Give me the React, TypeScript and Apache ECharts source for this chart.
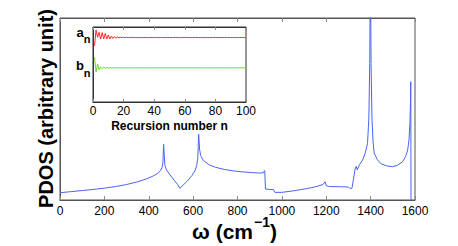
import React, { useEffect, useRef } from "react";
import * as echarts from "echarts";

// Main PDOS curve (omega in cm^-1, PDOS in arbitrary units)
const omega = [0, 50, 100, 150, 200, 250, 300, 350, 390, 420, 440, 452, 460, 464, 467, 470, 473, 480, 495, 515, 530, 540, 555, 575, 595, 608, 616, 621, 625, 629, 634, 642, 655, 675, 700, 740, 780, 820, 860, 900, 918, 921, 923, 926, 945, 962, 968, 1000, 1050, 1100, 1150, 1185, 1195, 1200, 1215, 1260, 1300, 1310, 1316, 1322, 1330, 1335, 1340, 1350, 1364, 1375, 1386, 1392, 1396, 1399, 1402, 1406, 1411, 1416, 1430, 1446, 1470, 1499, 1520, 1544, 1558, 1567, 1573, 1577, 1580, 1581, 1582];
const pdos = [0.040, 0.046, 0.052, 0.058, 0.065, 0.074, 0.085, 0.100, 0.116, 0.132, 0.146, 0.160, 0.178, 0.205, 0.306, 0.240, 0.190, 0.165, 0.140, 0.108, 0.085, 0.064, 0.082, 0.105, 0.135, 0.160, 0.190, 0.230, 0.361, 0.280, 0.245, 0.225, 0.208, 0.192, 0.180, 0.168, 0.160, 0.155, 0.151, 0.148, 0.150, 0.162, 0.158, 0.060, 0.058, 0.057, 0.042, 0.042, 0.050, 0.060, 0.072, 0.085, 0.100, 0.078, 0.074, 0.073, 0.071, 0.062, 0.065, 0.110, 0.170, 0.185, 0.165, 0.195, 0.220, 0.255, 0.310, 0.450, 0.750, 1.300, 0.750, 0.450, 0.320, 0.258, 0.222, 0.200, 0.188, 0.183, 0.190, 0.210, 0.240, 0.275, 0.330, 0.420, 0.550, 0.650, 0.000];

// Inset: recursion coefficients a_n and b_n for n = 1..100
const aN = [
  0.750, 0.960, 0.863, 0.930, 0.840, 0.927, 0.840, 0.913, 0.840, 0.893,
  0.840, 0.880, 0.847, 0.873, 0.849, 0.867, 0.856, 0.864, 0.857, 0.862,
  0.858, 0.863, 0.857, 0.861, 0.859, 0.862, 0.858, 0.861, 0.857, 0.862,
  0.859, 0.861, 0.858, 0.862, 0.859, 0.860, 0.857, 0.862, 0.858, 0.861,
  0.859, 0.862, 0.857, 0.861, 0.859, 0.860, 0.858, 0.862, 0.859, 0.861,
  0.858, 0.860, 0.859, 0.862, 0.858, 0.861, 0.857, 0.860, 0.859, 0.862,
  0.858, 0.861, 0.859, 0.860, 0.858, 0.862, 0.859, 0.861, 0.858, 0.860,
  0.859, 0.862, 0.858, 0.861, 0.859, 0.860, 0.858, 0.861, 0.859, 0.862,
  0.858, 0.860, 0.859, 0.861, 0.858, 0.862, 0.859, 0.860, 0.858, 0.861,
  0.859, 0.860, 0.858, 0.861, 0.859, 0.860, 0.859, 0.861, 0.858, 0.860,
];
const bN = [
  0.596, 0.400, 0.507, 0.430, 0.470, 0.444, 0.467, 0.449, 0.463, 0.450,
  0.460, 0.452, 0.459, 0.453, 0.458, 0.454, 0.457, 0.453, 0.458, 0.455,
  0.457, 0.454, 0.458, 0.455, 0.457, 0.453, 0.457, 0.455, 0.458, 0.454,
  0.456, 0.455, 0.458, 0.454, 0.457, 0.455, 0.456, 0.454, 0.458, 0.455,
  0.457, 0.454, 0.456, 0.455, 0.458, 0.454, 0.457, 0.455, 0.456, 0.454,
  0.458, 0.455, 0.457, 0.454, 0.456, 0.455, 0.458, 0.454, 0.457, 0.455,
  0.456, 0.454, 0.458, 0.455, 0.457, 0.454, 0.456, 0.455, 0.458, 0.454,
  0.457, 0.455, 0.456, 0.454, 0.458, 0.455, 0.457, 0.454, 0.456, 0.455,
  0.458, 0.454, 0.457, 0.455, 0.456, 0.454, 0.458, 0.455, 0.457, 0.454,
  0.456, 0.455, 0.458, 0.454, 0.457, 0.455, 0.456, 0.454, 0.457, 0.455,
];

const FONT = "'Liberation Sans', Arial, Helvetica, sans-serif";

export default function App() {
  const ref = useRef<HTMLDivElement>(null);
  useEffect(() => {
    if (!ref.current) return;
    const chart = echarts.init(ref.current, null, { renderer: "svg" });
    const mainData = omega.map((w, i) => [w, pdos[i]]);
    const aData = aN.map((v, i) => [i + 1, v]);
    const bData = bN.map((v, i) => [i + 1, v]);
    const tickStyle = { color: "#888", width: 1 };
    const plain = (v: number) => String(v);
    chart.setOption({
      animation: false,
      backgroundColor: "#fff",
      textStyle: { fontFamily: FONT },
      grid: [
        { left: 60, top: 18, width: 355, height: 182, show: true, borderColor: "#555", borderWidth: 1, backgroundColor: "transparent", z: 0 },
        { left: 93, top: 27, width: 153, height: 75, show: true, borderColor: "#333", borderWidth: 1, backgroundColor: "#fff", z: 5 },
      ],
      xAxis: [
        {
          gridIndex: 0, type: "value", position: "bottom", min: 0, max: 1600, interval: 200,
          axisLine: { show: true, lineStyle: { color: "#555" } },
          axisTick: { show: true, inside: true, length: 4, lineStyle: tickStyle },
          axisLabel: { color: "#000", fontSize: 12, margin: 5, fontFamily: FONT, formatter: plain },
          splitLine: { show: false },
        },
        {
          gridIndex: 0, type: "value", position: "top", min: 0, max: 1600, interval: 200,
          axisLine: { show: true, lineStyle: { color: "#555" } },
          axisTick: { show: true, inside: true, length: 4, lineStyle: tickStyle },
          axisLabel: { show: false },
          splitLine: { show: false },
        },
        {
          gridIndex: 1, type: "value", position: "bottom", min: 0, max: 100, interval: 20, z: 6,
          axisLine: { show: true, lineStyle: { color: "#333" } },
          axisTick: { show: true, inside: true, length: 3, lineStyle: tickStyle },
          axisLabel: { color: "#000", fontSize: 12, margin: 3, fontFamily: FONT, formatter: plain },
          splitLine: { show: false },
        },
        {
          gridIndex: 1, type: "value", position: "top", min: 0, max: 100, interval: 20, z: 6,
          axisLine: { show: true, lineStyle: { color: "#333" } },
          axisTick: { show: true, inside: true, length: 3, lineStyle: tickStyle },
          axisLabel: { show: false },
          splitLine: { show: false },
        },
      ],
      yAxis: [
        {
          gridIndex: 0, type: "value", min: 0, max: 1,
          axisLine: { show: true, lineStyle: { color: "#555" } },
          axisTick: { show: false }, axisLabel: { show: false }, splitLine: { show: false },
        },
        {
          gridIndex: 1, type: "value", min: 0, max: 1, z: 6,
          axisLine: { show: true, lineStyle: { color: "#333" } },
          axisTick: { show: false }, axisLabel: { show: false }, splitLine: { show: false },
        },
      ],
      series: [
        {
          type: "line", xAxisIndex: 0, yAxisIndex: 0, data: mainData, showSymbol: false,
          lineStyle: { color: "#4a63f5", width: 1 }, clip: true, z: 2,
        },
        {
          type: "line", xAxisIndex: 2, yAxisIndex: 1, data: aData, showSymbol: false,
          lineStyle: { color: "#ff2a2a", width: 1 }, z: 7,
        },
        {
          type: "line", xAxisIndex: 2, yAxisIndex: 1, data: bData, showSymbol: false,
          lineStyle: { color: "#66dd22", width: 1 }, z: 7,
        },
      ],
      graphic: [
        {
          type: "text", x: 46, y: 108.5, rotation: Math.PI / 2, z: 10,
          style: { text: "PDOS (arbitrary unit)", fontFamily: FONT, fontWeight: "bold", fontSize: 20, fill: "#000", align: "center", verticalAlign: "middle" },
        },
        {
          type: "text", x: 253, y: 231, z: 10,
          style: { text: "ω (cm", fontFamily: FONT, fontWeight: "bold", fontSize: 21, fill: "#000", align: "right", verticalAlign: "middle" },
        },
        {
          type: "text", x: 254, y: 221.5, z: 10,
          style: { text: "−1", fontFamily: FONT, fontWeight: "bold", fontSize: 14, fill: "#000", align: "left", verticalAlign: "middle" },
        },
        {
          type: "text", x: 270, y: 231, z: 10,
          style: { text: ")", fontFamily: FONT, fontWeight: "bold", fontSize: 21, fill: "#000", align: "left", verticalAlign: "middle" },
        },
        {
          type: "text", x: 169.5, y: 125.5, z: 10,
          style: { text: "Recursion number n", fontFamily: FONT, fontWeight: "bold", fontSize: 12, fill: "#000", align: "center", verticalAlign: "middle" },
        },
        {
          type: "text", x: 80, y: 32.5, z: 10,
          style: { text: "a", fontFamily: FONT, fontWeight: "bold", fontSize: 13, fill: "#000", align: "center", verticalAlign: "middle" },
        },
        {
          type: "text", x: 87, y: 39, z: 10,
          style: { text: "n", fontFamily: FONT, fontWeight: "bold", fontSize: 11, fill: "#000", align: "center", verticalAlign: "middle" },
        },
        {
          type: "text", x: 80, y: 65.5, z: 10,
          style: { text: "b", fontFamily: FONT, fontWeight: "bold", fontSize: 13, fill: "#000", align: "center", verticalAlign: "middle" },
        },
        {
          type: "text", x: 87, y: 72.5, z: 10,
          style: { text: "n", fontFamily: FONT, fontWeight: "bold", fontSize: 11, fill: "#000", align: "center", verticalAlign: "middle" },
        },
      ],
    });
    return () => chart.dispose();
  }, []);
  return <div ref={ref} style={{ position: "fixed", left: 0, top: 0, width: 458, height: 246 }} />;
}
